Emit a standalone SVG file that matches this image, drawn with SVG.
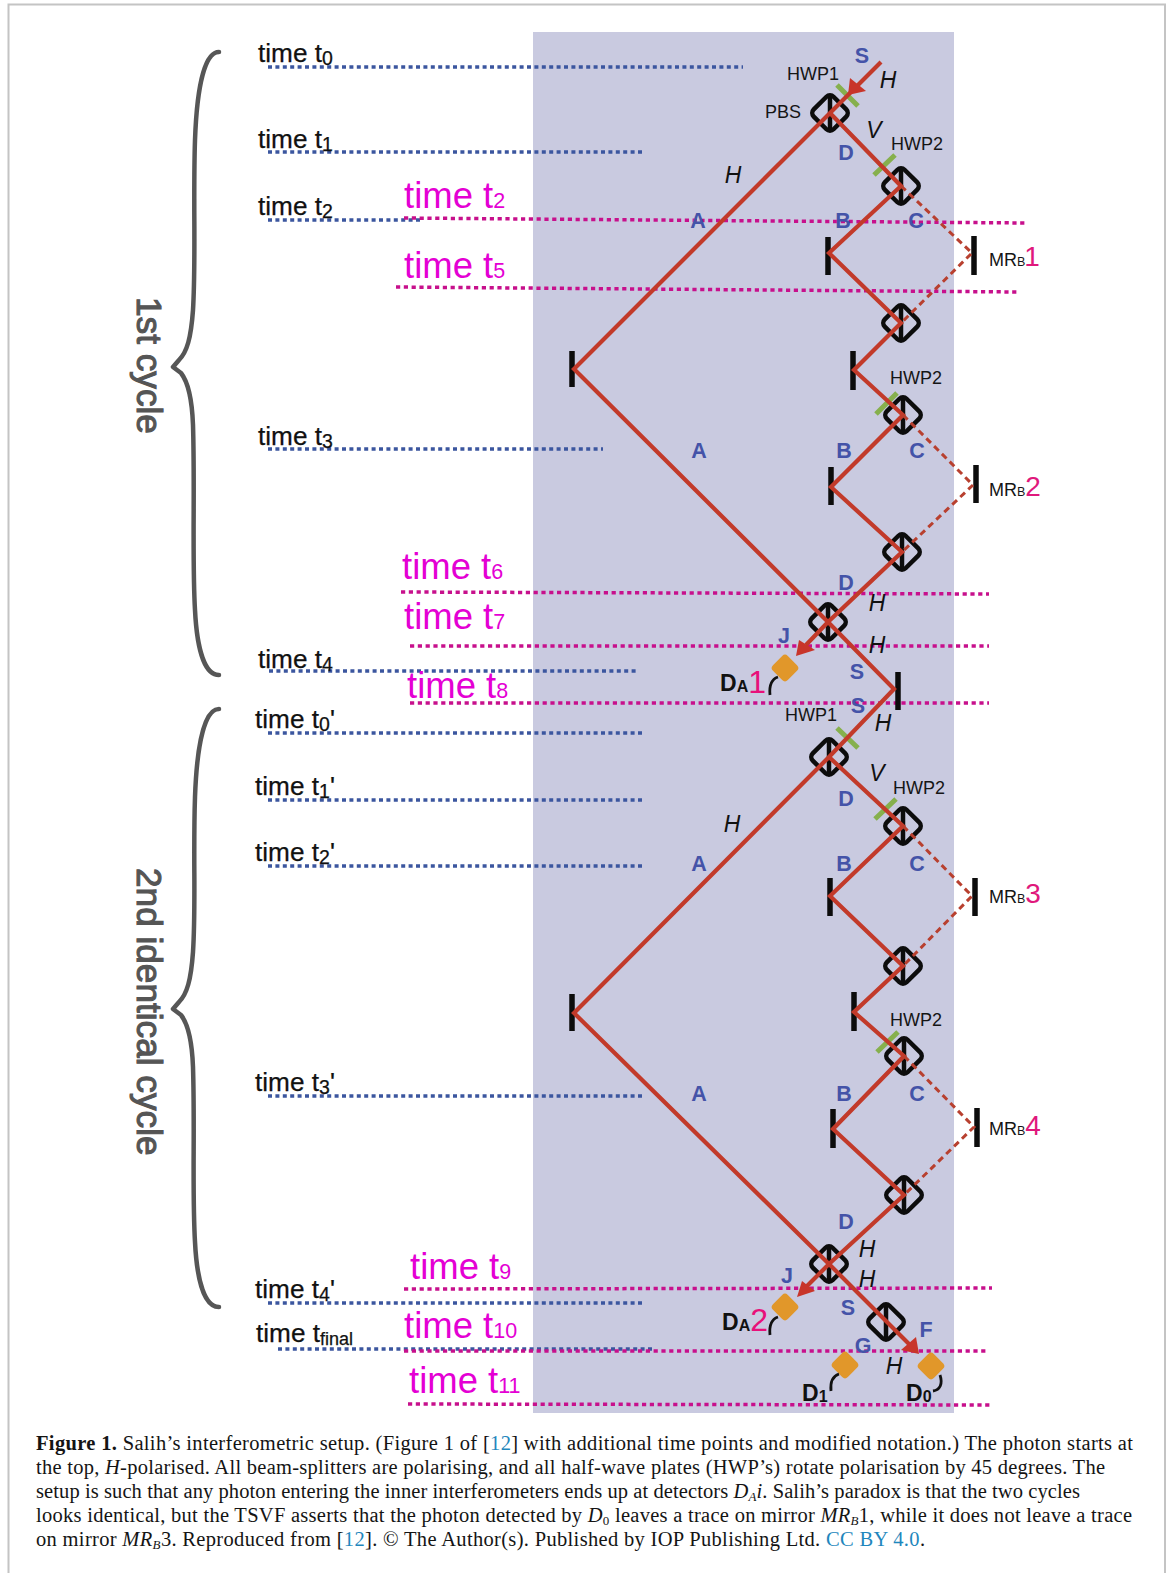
<svg xmlns="http://www.w3.org/2000/svg" width="1173" height="1573" viewBox="0 0 1173 1573">
<defs>
<g id="bs"><rect x="-14" y="-14" width="28" height="28" rx="5" transform="rotate(45)" fill="none" stroke="#0c0c0c" stroke-width="4.5"/><path d="M0,-18V18" stroke="#0c0c0c" stroke-width="4.5" fill="none"/></g>
<rect id="det" x="-10.5" y="-10.5" width="21" height="21" rx="4" transform="rotate(45)" fill="#e1972a"/>
</defs>
<style>
text{font-family:"Liberation Sans",Arial,sans-serif}
.ln{fill:none;stroke:#c23a2a;stroke-width:4.2;stroke-linejoin:miter}
.ds{fill:none;stroke:#b8402f;stroke-width:3;stroke-dasharray:6.5 4.5}
.ah{fill:#c8352a}
.bl{fill:none;stroke:#3b569f;stroke-width:3.4;stroke-dasharray:4 3.4}
.mg{fill:none;stroke:#c7108c;stroke-width:3.5;stroke-dasharray:4.2 3.6}
.mi{stroke:#0c0c0c;stroke-width:5.5}
.pl{stroke:#86b04d;stroke-width:5}
.wr{fill:none;stroke:#111;stroke-width:2.8}
.br{fill:none;stroke:#565656;stroke-width:4.5;stroke-linecap:round;stroke-linejoin:round}
.tb{font-size:26.2px;fill:#111;stroke:#111;stroke-width:.25}
.tb tspan{font-size:19.5px}
.tb tspan.p{font-size:26.2px}
.tm{font-size:36.5px;fill:#e400d4}
.tm tspan{font-size:21.5px}
.lb{font-size:21.5px;font-weight:bold;fill:#4453a8;text-anchor:middle}
.it{font-size:23px;font-style:italic;fill:#111;text-anchor:middle}
.sm{font-size:18px;fill:#151515}
.mr{font-size:18px;fill:#151515}
.mr .s{font-size:12.5px}
.mr .n{font-size:28px;fill:#e0187c}
.da{font-size:23px;font-weight:bold;fill:#111}
.da .s{font-size:16px}
.da .n{font-size:32px;font-weight:normal;fill:#e8107a}
.cy{font-size:35.2px;fill:#555;stroke:#555;stroke-width:1.1}
.cap{font-family:"Liberation Serif","Times New Roman",serif;font-size:20.5px;fill:#141414}
.cap .r{font-size:13px}
.lk{fill:#1f87bd}
</style>
<rect width="1173" height="1573" fill="#fff"/>
<path d="M8.5,1573V4.5H1165V1573" fill="none" stroke="#c4c4c4" stroke-width="2"/>
<rect id="panel" x="533" y="32" width="421" height="1381" fill="#c9cae0"/>
<g id="time-lines">
<path class="bl" d="M268,67H743M268,152H645M268,220H420M268,449H603M269,671H636M268,733H645M268,800H645M268,866H645M268,1096H645M268,1303H645M278,1349H653"/>
<path class="mg" d="M404,218L1027,223M396,287L1018,292M401,592L989,594M410,646H989M410,703H989M404,1289L992,1288M404,1351H987M408,1404L992,1405"/>
</g>
<g id="mirrors">
<path class="mi" d="M572,351V387M828,237V275M853,351V390M831,467V505M974,236V275M976,465V503M898,672V710M572,994V1031M830,878V916M854,992V1031M833,1109V1148M975,878V916M977,1108V1147"/>
</g>
<g id="plates">
<path class="pl" d="M837,85L858,106M874,175L895,155M876,414L897,393M837,728L858,748M875,819L896,799M877,1052L898,1032"/>
</g>
<g id="splitters">
<use id="pbs1" href="#bs" transform="translate(830,113)"/>
<use id="pbs2" href="#bs" transform="translate(901,186)"/>
<use id="pbs3" href="#bs" transform="translate(901,323)"/>
<use id="pbs4" href="#bs" transform="translate(903,415)"/>
<use id="pbs5" href="#bs" transform="translate(902,552)"/>
<use id="pbs6" href="#bs" transform="translate(828,622)"/>
<use id="pbs7" href="#bs" transform="translate(829,757)"/>
<use id="pbs8" href="#bs" transform="translate(903,826)"/>
<use id="pbs9" href="#bs" transform="translate(903,966)"/>
<use id="pbs10" href="#bs" transform="translate(904,1056)"/>
<use id="pbs11" href="#bs" transform="translate(904,1195)"/>
<use id="pbs12" href="#bs" transform="translate(829,1264)"/>
<use id="pbs13" href="#bs" transform="translate(886,1322)"/>
</g>
<g id="connectors">
<path class="ln" d="M881,62L830,113L574,369L828,622L894,689L829,757L574,1013L829,1264L912,1347"/>
<path class="ln" d="M830,113L901,186L829,253L901,323L854,370L903,415L831,487L902,552L828,622L806,645"/>
<path class="ln" d="M829,757L903,826L830,896L903,966L854,1012L904,1056L833,1129L904,1195L829,1264L807,1286"/>
<path class="ds" d="M901,186L972,253L901,323"/>
<path class="ds" d="M903,415L973,485L902,552"/>
<path class="ds" d="M903,826L972,896L903,966"/>
<path class="ds" d="M904,1056L974,1127L904,1195"/>
<polygon class="ah" points="848,95 850,78 866,91"/>
<polygon class="ah" points="796,656 799,640 815,650"/>
<polygon class="ah" points="797,1297 802,1281 815,1291"/>
<polygon class="ah" points="919,1354 901,1350 916,1337"/>
</g>
<g id="detectors">
<g id="da1"><use href="#det" transform="translate(785,668)"/><path class="wr" d="M770,695C769,685 772,679 778,677"/></g>
<g id="da2"><use href="#det" transform="translate(785,1307)"/><path class="wr" d="M770,1335C769,1325 772,1319 778,1317"/></g>
<g id="d1"><use href="#det" transform="translate(845,1365)"/><path class="wr" d="M831,1391C830,1381 833,1376 839,1374"/></g>
<g id="d0"><use href="#det" transform="translate(931,1366)"/><path class="wr" d="M940,1375C943,1384 940,1390 933,1391"/></g>
</g>
<g id="braces">
<path class="br" d="M219,52C205,52 197,85 195,140C193,200 196,260 193,310C191,338 187,352 179,360L173,367L181,373C188,382 192,398 193,425C195,490 192,560 195,610C197,650 205,675 219,675"/>
<path class="br" d="M219,709C205,709 197,742 195,797C193,857 196,905 193,952C191,980 187,994 179,1002L173,1009L181,1015C188,1024 192,1040 193,1067C195,1132 192,1190 195,1242C197,1282 205,1307 219,1307"/>
</g>
<g id="cycle-labels">
<text class="cy" transform="translate(137,297) rotate(90)">1st cycle</text>
<text class="cy" transform="translate(137,868) rotate(90)">2nd identical cycle</text>
</g>
<g id="time-labels">
<text class="tb" x="258" y="62">time t<tspan dy="2.5">0</tspan></text>
<text class="tb" x="258" y="148">time t<tspan dy="2.5">1</tspan></text>
<text class="tb" x="258" y="215">time t<tspan dy="2.5">2</tspan></text>
<text class="tb" x="258" y="445">time t<tspan dy="2.5">3</tspan></text>
<text class="tb" x="258" y="668">time t<tspan dy="2.5">4</tspan></text>
<text class="tb" x="255" y="728">time t<tspan dy="2.5">0</tspan><tspan class="p" dy="-2.5">'</tspan></text>
<text class="tb" x="255" y="795">time t<tspan dy="2.5">1</tspan><tspan class="p" dy="-2.5">'</tspan></text>
<text class="tb" x="255" y="861">time t<tspan dy="2.5">2</tspan><tspan class="p" dy="-2.5">'</tspan></text>
<text class="tb" x="255" y="1091">time t<tspan dy="2.5">3</tspan><tspan class="p" dy="-2.5">'</tspan></text>
<text class="tb" x="255" y="1298">time t<tspan dy="2.5">4</tspan><tspan class="p" dy="-2.5">'</tspan></text>
<text class="tb" x="256" y="1342">time t<tspan dy="2.5" style="font-size:18px">final</tspan></text>
<text class="tm" x="404" y="208">time t<tspan>2</tspan></text>
<text class="tm" x="404" y="278">time t<tspan>5</tspan></text>
<text class="tm" x="402" y="579">time t<tspan>6</tspan></text>
<text class="tm" x="404" y="629">time t<tspan>7</tspan></text>
<text class="tm" x="407" y="698">time t<tspan>8</tspan></text>
<text class="tm" x="410" y="1279">time t<tspan>9</tspan></text>
<text class="tm" x="404" y="1338">time t<tspan>10</tspan></text>
<text class="tm" x="409" y="1393">time t<tspan>11</tspan></text>
</g>
<g id="point-labels">
<text class="lb" x="862" y="63">S</text><text class="lb" x="846" y="160">D</text><text class="lb" x="698" y="228">A</text><text class="lb" x="843" y="228">B</text><text class="lb" x="916" y="228">C</text>
<text class="lb" x="699" y="458">A</text><text class="lb" x="844" y="458">B</text><text class="lb" x="917" y="458">C</text>
<text class="lb" x="846" y="590">D</text><text class="lb" x="784" y="643">J</text><text class="lb" x="857" y="679">S</text><text class="lb" x="858" y="713">S</text>
<text class="lb" x="846" y="806">D</text><text class="lb" x="699" y="871">A</text><text class="lb" x="844" y="871">B</text><text class="lb" x="917" y="871">C</text>
<text class="lb" x="699" y="1101">A</text><text class="lb" x="844" y="1101">B</text><text class="lb" x="917" y="1101">C</text>
<text class="lb" x="846" y="1229">D</text><text class="lb" x="787" y="1283">J</text><text class="lb" x="848" y="1315">S</text><text class="lb" x="863" y="1353">G</text><text class="lb" x="926" y="1337">F</text>
<text class="it" x="888" y="88">H</text><text class="it" x="874" y="138">V</text><text class="it" x="733" y="183">H</text>
<text class="it" x="877" y="611">H</text><text class="it" x="877" y="653">H</text><text class="it" x="883" y="731">H</text><text class="it" x="877" y="781">V</text><text class="it" x="732" y="832">H</text>
<text class="it" x="867" y="1257">H</text><text class="it" x="867" y="1287">H</text><text class="it" x="894" y="1374">H</text>
<text class="sm" x="787" y="80">HWP1</text><text class="sm" x="765" y="118">PBS</text><text class="sm" x="891" y="150">HWP2</text><text class="sm" x="890" y="384">HWP2</text>
<text class="sm" x="785" y="721">HWP1</text><text class="sm" x="893" y="794">HWP2</text><text class="sm" x="890" y="1026">HWP2</text>
<text class="mr" x="989" y="266">MR<tspan class="s">B</tspan><tspan class="n" dx="-1">1</tspan></text>
<text class="mr" x="989" y="496">MR<tspan class="s">B</tspan><tspan class="n">2</tspan></text>
<text class="mr" x="989" y="903">MR<tspan class="s">B</tspan><tspan class="n">3</tspan></text>
<text class="mr" x="989" y="1135">MR<tspan class="s">B</tspan><tspan class="n">4</tspan></text>
<text class="da" x="720" y="691">D<tspan class="s" dy="1">A</tspan><tspan class="n" dy="1">1</tspan></text>
<text class="da" x="722" y="1330">D<tspan class="s" dy="1">A</tspan><tspan class="n" dy="0">2</tspan></text>
<text class="da" x="802" y="1401">D<tspan class="s" dy="1">1</tspan></text>
<text class="da" x="906" y="1401">D<tspan class="s" dy="1">0</tspan></text>
</g>
<g id="caption">
<text class="cap" x="36" y="1450" textLength="1097"><tspan font-weight="bold">Figure 1.</tspan> Salih’s interferometric setup. (Figure 1 of [<tspan class="lk">12</tspan>] with additional time points and modified notation.) The photon starts at</text>
<text class="cap" x="36" y="1474" textLength="1069">the top, <tspan font-style="italic">H</tspan>-polarised. All beam-splitters are polarising, and all half-wave plates (HWP’s) rotate polarisation by 45 degrees. The</text>
<text class="cap" x="36" y="1498" textLength="1044">setup is such that any photon entering the inner interferometers ends up at detectors <tspan font-style="italic">D</tspan><tspan class="r" font-style="italic" dy="3">A</tspan><tspan font-style="italic" dy="-3">i</tspan>. Salih’s paradox is that the two cycles</text>
<text class="cap" x="36" y="1522" textLength="1096">looks identical, but the TSVF asserts that the photon detected by <tspan font-style="italic">D</tspan><tspan class="r" dy="3">0</tspan><tspan dy="-3"> leaves a trace on mirror </tspan><tspan font-style="italic">MR</tspan><tspan class="r" font-style="italic" dy="3">B</tspan><tspan dy="-3">1, while it does not leave a trace</tspan></text>
<text class="cap" x="36" y="1546" textLength="889">on mirror <tspan font-style="italic">MR</tspan><tspan class="r" font-style="italic" dy="3">B</tspan><tspan dy="-3">3. Reproduced from [</tspan><tspan class="lk">12</tspan>]. © The Author(s). Published by IOP Publishing Ltd. <tspan class="lk">CC BY 4.0</tspan>.</text>
</g>
</svg>
